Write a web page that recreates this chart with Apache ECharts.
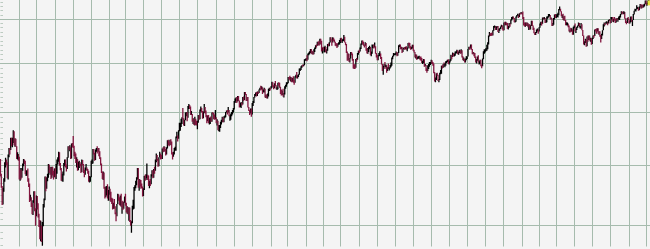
<!DOCTYPE html>
<html><head><meta charset="utf-8">
<script src="https://cdn.jsdelivr.net/npm/echarts@6/dist/echarts.min.js"></script>
<style>html,body{margin:0;padding:0;background:#f4f4f4;overflow:hidden}#chart{width:650px;height:249px}</style>
</head><body><div id="chart"></div>
<script>
// Daily index bars, Aug 2002 - Aug 2005 (one row per month)
const holidays = ['2002-09-02','2002-11-28','2002-12-25','2003-01-01','2003-01-20','2003-02-17','2003-04-18','2003-05-26','2003-07-04','2003-09-01','2003-11-27','2003-12-25','2004-01-01','2004-01-19','2004-02-16','2004-04-09','2004-05-31','2004-06-11','2004-07-05','2004-09-06','2004-11-25','2004-12-24','2005-01-17','2005-02-21','2005-03-25','2005-05-30','2005-07-04'];

const opens = [
912,885,864,835,860,877,905,909,904,884,920,930,929,951,937,949,963,941,948,935,918,918,
916,878,893,879,894,903,910,909,887,890,891,874,869,843,845,834,819,840,855,827,
815,848,828,819,801,785,799,777,804,835,841,881,860,879,884,900,890,896,883,898,890,882,891,
886,901,908,915,924,903,895,876,883,883,904,910,900,897,914,934,931,933,913,939,
936,935,921,918,907,912,892,904,905,902,889,910,903,891,884,896,897,892,890,875,879,
880,909,909,929,923,910,928,928,926,932,918,915,902,888,878,887,861,847,859,864,845,
856,860,848,844,838,830,836,829,819,817,835,851,845,837,848,833,839,828,837,
841,835,822,830,822,829,808,801,804,832,833,863,866,874,876,896,864,875,870,869,864,
848,858,881,876,879,880,878,866,872,868,885,891,880,894,892,911,919,911,899,915,918,
917,916,930,927,934,930,920,933,945,942,939,947,944,921,920,923,932,933,951,953,950,
964,967,972,986,990,988,976,985,997,999,989,1011,1012,1010,995,996,982,983,975,986,976,
975,982,994,986,1004,1008,1002,989,998,1004,1000,994,982,993,979,988,989,982,999,997,989,987,
990,980,983,965,967,974,978,981,990,984,991,991,1000,1002,1000,1003,993,994,997,997,1003,
1008,1022,1026,1028,1021,1032,1023,1011,1016,1019,1015,1029,1026,1040,1036,1023,1029,1009,1003,997,1007,
996,1018,1020,1030,1034,1039,1034,1039,1038,1045,1049,1047,1050,1039,1045,1046,1030,1034,1029,1031,1047,1048,1047,
1051,1059,1053,1052,1058,1053,1047,1047,1059,1058,1050,1044,1034,1042,1034,1035,1052,1054,1058,
1058,1070,1067,1065,1070,1062,1069,1060,1059,1071,1074,1068,1075,1076,1089,1089,1093,1096,1094,1096,1109,1110,
1112,1108,1122,1124,1126,1132,1122,1127,1121,1131,1132,1140,1139,1148,1144,1142,1155,1144,1128,1134,
1131,1135,1136,1127,1129,1143,1140,1146,1158,1152,1146,1157,1152,1147,1144,1141,1139,1144,1145,
1145,1156,1149,1151,1155,1157,1147,1141,1124,1107,1121,1104,1111,1124,1122,1110,1095,1094,1091,1109,1108,1122,1127,
1126,1132,1142,1151,1148,1141,1139,1145,1129,1128,1129,1135,1136,1118,1124,1140,1141,1136,1138,1122,1114,
1107,1117,1120,1122,1114,1099,1087,1095,1097,1096,1096,1084,1091,1089,1089,1094,1095,1113,1115,1121,
1121,1121,1125,1117,1123,1140,1142,1131,1136,1125,1132,1134,1132,1135,1130,1134,1144,1141,1134,1133,1136,
1141,1129,1125,1116,1118,1109,1113,1114,1115,1111,1107,1101,1101,1109,1094,1097,1086,1084,1095,1095,1100,
1102,1107,1100,1099,1081,1064,1065,1079,1076,1063,1065,1079,1082,1095,1091,1098,1096,1096,1105,1105,1108,1099,
1104,1106,1118,1114,1121,1116,1118,1124,1126,1128,1120,1124,1129,1122,1129,1114,1108,1110,1104,1110,1115,
1115,1132,1135,1134,1142,1131,1122,1124,1122,1114,1103,1108,1114,1103,1104,1106,1096,1095,1111,1125,1127,
1130,1131,1131,1143,1162,1166,1165,1164,1163,1173,1184,1184,1175,1182,1184,1170,1177,1177,1182,1183,1179,
1174,1191,1190,1191,1190,1177,1183,1189,1188,1199,1203,1206,1203,1194,1195,1205,1210,1210,1205,1214,1213,1214,
1212,1202,1188,1184,1188,1186,1190,1183,1188,1177,1185,1196,1185,1175,1168,1164,1168,1174,1175,1171,
1181,1189,1193,1190,1203,1202,1202,1192,1197,1205,1206,1210,1210,1201,1202,1184,1191,1200,1211,
1204,1210,1210,1210,1222,1225,1219,1207,1209,1200,1207,1198,1188,1190,1190,1184,1172,1173,1171,1174,1165,1181,
1181,1173,1176,1181,1184,1191,1181,1181,1188,1174,1162,1143,1146,1153,1138,1160,1152,1162,1152,1156,1143,
1157,1162,1161,1176,1173,1171,1179,1166,1171,1159,1154,1166,1174,1186,1191,1189,1194,1194,1190,1198,1199,
1192,1202,1204,1196,1198,1197,1195,1201,1198,1201,1204,1207,1211,1217,1216,1214,1214,1201,1192,1191,1202,1200,
1191,1194,1205,1195,1198,1212,1219,1222,1223,1227,1228,1221,1229,1235,1227,1234,1229,1231,1237,1244,
1234,1235,1244,1245
];

const closes = [
885,864,835,860,877,905,909,904,884,920,930,929,951,937,949,963,941,948,935,918,918,916,
878,893,879,894,903,910,909,887,890,891,874,869,843,845,834,819,840,855,827,815,
848,828,819,801,785,799,777,804,835,841,881,860,879,884,900,890,896,883,898,890,882,891,886,
901,908,915,924,903,895,876,883,883,904,910,900,897,914,934,931,933,913,939,936,
935,921,918,907,912,892,904,905,902,889,910,903,891,884,896,897,892,890,875,879,880,
909,909,929,923,910,928,928,926,932,918,915,902,888,878,887,861,847,859,864,845,856,
860,848,844,838,830,836,829,819,817,835,851,845,837,848,833,839,828,837,841,
835,822,830,822,829,808,801,804,832,833,863,866,874,876,896,864,875,870,869,864,848,
858,881,876,879,880,878,866,872,868,885,891,880,894,892,911,919,911,899,915,918,917,
916,930,927,934,930,920,933,945,942,939,947,944,921,920,923,932,933,951,953,950,964,
967,972,986,990,988,976,985,997,999,989,1011,1012,1010,995,996,982,983,975,986,976,975,
982,994,986,1004,1008,1002,989,998,1004,1000,994,982,993,979,988,989,982,999,997,989,987,990,
980,983,965,967,974,978,981,990,984,991,991,1000,1002,1000,1003,993,994,997,997,1003,1008,
1022,1026,1028,1021,1032,1023,1011,1016,1019,1015,1029,1026,1040,1036,1023,1029,1009,1003,997,1007,996,
1018,1020,1030,1034,1039,1034,1039,1038,1045,1049,1047,1050,1039,1045,1046,1030,1034,1029,1031,1047,1048,1047,1051,
1059,1053,1052,1058,1053,1047,1047,1059,1058,1050,1044,1034,1042,1034,1035,1052,1054,1058,1058,
1070,1067,1065,1070,1062,1069,1060,1059,1071,1074,1068,1075,1076,1089,1089,1093,1096,1094,1096,1109,1110,1112,
1108,1122,1124,1126,1132,1122,1127,1121,1131,1132,1140,1139,1148,1144,1142,1155,1144,1128,1134,1131,
1135,1136,1127,1129,1143,1140,1146,1158,1152,1146,1157,1152,1147,1144,1141,1139,1144,1145,1145,
1156,1149,1151,1155,1157,1147,1141,1124,1107,1121,1104,1111,1124,1122,1110,1095,1094,1091,1109,1108,1122,1127,1126,
1132,1142,1151,1148,1141,1139,1145,1129,1128,1129,1135,1136,1118,1124,1140,1141,1136,1138,1122,1114,1107,
1117,1120,1122,1114,1099,1087,1095,1097,1096,1096,1084,1091,1089,1089,1094,1095,1113,1115,1121,1121,
1121,1125,1117,1123,1140,1142,1131,1136,1125,1132,1134,1132,1135,1130,1134,1144,1141,1134,1133,1136,1141,
1129,1125,1116,1118,1109,1113,1114,1115,1111,1107,1101,1101,1109,1094,1097,1086,1084,1095,1095,1100,1102,
1107,1100,1099,1081,1064,1065,1079,1076,1063,1065,1079,1082,1095,1091,1098,1096,1096,1105,1105,1108,1099,1104,
1106,1118,1114,1121,1116,1118,1124,1126,1128,1120,1124,1129,1122,1129,1114,1108,1110,1104,1110,1115,1115,
1132,1135,1134,1142,1131,1122,1124,1122,1114,1103,1108,1114,1103,1104,1106,1096,1095,1111,1125,1127,1130,
1131,1131,1143,1162,1166,1165,1164,1163,1173,1184,1184,1175,1182,1184,1170,1177,1177,1182,1183,1179,1174,
1191,1190,1191,1190,1177,1183,1189,1188,1199,1203,1206,1203,1194,1195,1205,1210,1210,1205,1214,1213,1214,1212,
1202,1188,1184,1188,1186,1190,1183,1188,1177,1185,1196,1185,1175,1168,1164,1168,1174,1175,1171,1181,
1189,1193,1190,1203,1202,1202,1192,1197,1205,1206,1210,1210,1201,1202,1184,1191,1200,1211,1204,
1210,1210,1210,1222,1225,1219,1207,1209,1200,1207,1198,1188,1190,1190,1184,1172,1173,1171,1174,1165,1181,1181,
1173,1176,1181,1184,1191,1181,1181,1188,1174,1162,1143,1146,1153,1138,1160,1152,1162,1152,1156,1143,1157,
1162,1161,1176,1173,1171,1179,1166,1171,1159,1154,1166,1174,1186,1191,1189,1194,1194,1190,1198,1199,1192,
1202,1204,1196,1198,1197,1195,1201,1198,1201,1204,1207,1211,1217,1216,1214,1214,1201,1192,1191,1202,1200,1191,
1194,1205,1195,1198,1212,1219,1222,1223,1227,1228,1221,1229,1235,1227,1234,1229,1231,1237,1244,1234,
1235,1244,1245,1236
];

const lows = [
881,862,833,834,855,872,897,901,878,876,915,920,928,935,933,941,937,934,934,912,911,909,
876,874,876,879,891,899,903,885,882,883,872,863,838,840,830,818,817,837,823,800,
815,826,813,798,779,776,775,769,799,829,841,856,860,873,879,887,884,877,879,883,876,880,880,
877,886,902,907,900,892,874,873,872,883,899,897,890,894,914,928,926,912,913,933,
932,917,912,905,897,891,892,896,899,887,889,901,887,880,884,892,891,886,872,871,872,
880,903,904,920,909,910,925,922,925,917,912,901,887,877,875,860,844,846,849,844,840,
850,840,838,835,826,827,827,818,807,815,835,840,833,832,830,819,825,827,837,
832,821,819,818,808,806,800,789,804,826,827,857,861,866,876,862,857,864,860,861,847,
848,858,874,875,878,875,865,861,865,868,881,878,879,886,891,906,909,898,899,915,911,
912,912,924,925,926,918,920,931,937,935,937,938,920,911,916,920,927,927,950,944,949,
963,964,971,977,986,974,973,984,992,982,989,1006,1006,994,994,981,977,975,974,975,974,
967,979,985,986,1001,999,987,988,998,997,990,978,982,978,976,977,981,981,995,986,985,986,
978,974,965,963,962,969,976,980,980,980,988,990,999,995,999,992,983,985,992,995,999,
1005,1018,1021,1018,1021,1022,1009,1010,1008,1013,1015,1022,1024,1034,1022,1022,1009,1002,994,997,991,
995,1012,1018,1029,1032,1031,1032,1036,1038,1044,1043,1045,1036,1039,1039,1029,1028,1027,1027,1031,1042,1043,1047,
1049,1051,1046,1048,1052,1046,1044,1046,1053,1049,1036,1033,1034,1031,1029,1035,1047,1051,1056,
1058,1066,1064,1062,1060,1061,1059,1055,1059,1070,1068,1068,1071,1076,1084,1086,1091,1093,1094,1096,1106,1106,
1105,1108,1118,1120,1123,1121,1120,1119,1120,1125,1132,1135,1139,1140,1139,1141,1143,1126,1122,1128,
1124,1125,1124,1122,1128,1138,1138,1146,1151,1139,1146,1149,1146,1139,1138,1134,1137,1141,1142,
1145,1148,1145,1149,1149,1146,1140,1123,1106,1107,1104,1102,1111,1118,1106,1089,1088,1088,1091,1104,1108,1119,1123,
1126,1132,1141,1142,1139,1135,1139,1128,1122,1121,1125,1131,1118,1116,1121,1134,1133,1135,1121,1113,1107,
1107,1116,1116,1110,1098,1084,1076,1092,1088,1092,1080,1084,1088,1085,1089,1092,1095,1109,1115,1118,
1118,1119,1116,1117,1123,1136,1131,1131,1123,1125,1131,1130,1131,1130,1127,1133,1139,1133,1130,1131,1133,
1128,1124,1113,1111,1108,1109,1111,1110,1107,1106,1101,1099,1101,1093,1094,1084,1080,1084,1088,1093,1097,
1099,1099,1095,1079,1062,1060,1065,1074,1063,1060,1065,1077,1078,1089,1091,1094,1092,1095,1101,1103,1099,1098,
1102,1106,1109,1114,1116,1115,1117,1122,1122,1120,1119,1123,1121,1122,1113,1107,1106,1102,1102,1107,1110,
1115,1131,1130,1133,1130,1120,1120,1116,1112,1102,1100,1106,1102,1098,1099,1094,1090,1094,1109,1121,1124,
1127,1128,1131,1142,1160,1161,1161,1162,1162,1173,1180,1175,1175,1180,1170,1168,1173,1177,1181,1176,1173,
1174,1186,1186,1186,1177,1176,1180,1182,1188,1197,1200,1201,1193,1192,1194,1204,1208,1203,1205,1211,1212,1211,
1200,1185,1183,1182,1184,1184,1181,1175,1176,1176,1184,1184,1175,1167,1163,1163,1168,1171,1166,1171,
1180,1186,1185,1189,1199,1200,1191,1191,1193,1201,1204,1206,1200,1199,1184,1184,1187,1199,1203,
1203,1205,1204,1209,1221,1218,1207,1203,1198,1197,1196,1186,1186,1185,1181,1171,1169,1170,1171,1164,1164,1179,
1171,1168,1175,1180,1184,1181,1178,1178,1174,1161,1142,1140,1145,1137,1138,1148,1152,1151,1148,1141,1143,
1154,1157,1161,1171,1166,1171,1166,1164,1159,1146,1154,1162,1174,1183,1186,1188,1190,1186,1190,1196,1190,
1191,1200,1194,1193,1196,1191,1192,1197,1194,1199,1198,1204,1211,1213,1211,1212,1201,1191,1188,1191,1198,1190,
1190,1193,1194,1184,1198,1211,1219,1218,1223,1224,1220,1221,1228,1225,1226,1228,1228,1230,1236,1233,
1232,1235,1240,1235
];

const highs = [
912,886,865,862,878,906,914,911,906,920,932,932,951,951,951,965,963,950,949,935,924,921,
916,896,893,896,904,912,911,909,892,892,895,878,869,850,846,836,841,856,856,828,
849,848,836,819,809,808,800,806,835,844,881,881,880,886,903,902,898,897,898,898,891,895,896,
903,911,915,925,924,905,896,886,890,905,911,911,902,915,935,935,937,933,940,941,
954,936,925,922,915,912,907,909,906,903,911,910,903,893,897,903,897,894,891,882,881,
909,911,930,930,923,929,932,935,932,932,926,915,904,890,890,888,863,864,865,868,858,
864,860,855,845,844,837,843,831,821,835,852,851,846,849,852,839,840,838,847,
852,837,831,830,829,829,809,807,832,842,863,866,874,880,896,896,877,876,875,869,864,
861,882,884,885,904,884,883,874,877,885,892,892,894,898,911,922,919,912,915,925,922,
919,931,933,935,934,930,933,946,947,944,947,948,944,924,925,932,934,953,962,955,965,
979,979,987,990,1008,988,985,999,1000,1000,1012,1016,1014,1011,1002,996,988,987,991,987,983,
983,994,994,1005,1011,1008,1002,1001,1016,1010,1003,994,993,994,989,990,992,999,1000,998,995,1004,
990,986,983,975,975,981,985,991,990,992,993,1000,1003,1004,1010,1004,994,997,1000,1004,1008,
1022,1027,1029,1030,1032,1032,1023,1018,1020,1019,1030,1031,1040,1040,1036,1030,1030,1010,1004,1007,1007,
1018,1022,1030,1036,1039,1040,1041,1041,1045,1049,1053,1052,1050,1045,1049,1047,1035,1035,1037,1047,1049,1049,1052,
1061,1060,1054,1058,1063,1054,1050,1059,1060,1059,1051,1045,1043,1047,1038,1052,1055,1060,1060,
1071,1071,1074,1071,1070,1069,1073,1065,1073,1076,1082,1075,1077,1089,1090,1094,1096,1098,1098,1109,1110,1112,
1118,1122,1124,1127,1132,1132,1127,1128,1131,1135,1140,1142,1148,1148,1150,1155,1155,1150,1135,1137,
1136,1139,1136,1131,1143,1144,1147,1158,1158,1153,1158,1157,1153,1148,1144,1145,1144,1147,1152,
1156,1157,1153,1155,1163,1159,1147,1143,1126,1122,1121,1112,1125,1125,1122,1110,1098,1099,1110,1112,1123,1128,1130,
1135,1144,1151,1151,1148,1142,1147,1145,1133,1134,1136,1139,1136,1126,1142,1142,1142,1146,1138,1123,1119,
1118,1123,1127,1122,1114,1099,1095,1099,1103,1098,1096,1092,1100,1092,1097,1102,1113,1117,1123,1122,
1123,1126,1125,1124,1140,1142,1142,1137,1136,1133,1135,1136,1137,1138,1135,1145,1146,1145,1138,1137,1141,
1141,1130,1125,1120,1119,1115,1116,1117,1115,1115,1112,1106,1110,1109,1099,1097,1090,1096,1099,1103,1103,
1108,1107,1103,1100,1082,1070,1079,1080,1076,1067,1080,1086,1095,1096,1099,1102,1100,1105,1106,1108,1109,1105,
1109,1119,1118,1124,1123,1122,1126,1127,1130,1129,1126,1130,1129,1131,1129,1116,1113,1110,1111,1116,1116,
1132,1137,1137,1142,1142,1132,1125,1124,1123,1115,1110,1115,1118,1105,1108,1108,1098,1111,1127,1131,1131,
1134,1141,1147,1162,1170,1167,1168,1169,1174,1184,1185,1184,1183,1184,1184,1178,1179,1183,1187,1186,1180,
1192,1194,1194,1192,1191,1184,1191,1190,1199,1205,1206,1206,1203,1197,1206,1210,1213,1211,1214,1215,1217,1215,
1218,1205,1192,1192,1192,1192,1191,1188,1188,1186,1196,1196,1185,1180,1169,1170,1176,1178,1176,1181,
1190,1194,1194,1204,1204,1205,1203,1198,1206,1207,1212,1212,1210,1204,1202,1191,1203,1211,1212,
1211,1212,1215,1224,1230,1225,1219,1211,1213,1207,1208,1198,1193,1192,1190,1185,1176,1180,1179,1176,1182,1185,
1190,1178,1182,1185,1192,1191,1184,1191,1188,1175,1162,1149,1155,1153,1160,1162,1162,1162,1157,1156,1157,
1162,1163,1176,1177,1178,1179,1179,1172,1172,1163,1166,1174,1188,1192,1191,1194,1195,1194,1198,1200,1200,
1205,1205,1205,1201,1205,1201,1202,1202,1203,1206,1208,1212,1219,1218,1218,1219,1217,1202,1195,1203,1205,1201,
1197,1206,1206,1198,1212,1220,1225,1224,1233,1229,1228,1230,1236,1236,1234,1235,1235,1237,1245,1245,
1239,1245,1246,1245
];

const gridValues = [800, 900, 1000, 1100, 1200];
const minorTickValues = [770,780,790,810,820,830,840,850,860,870,880,890,910,920,930,940,950,960,970,980,990,
  1010,1020,1030,1040,1050,1060,1070,1080,1090,1110,1120,1130,1140,1150,1160,1170,1180,1190,1210,1220,1230,1240];

// trading-day categories
const dates = [];
const day = new Date(Date.UTC(2002, 7, 1));
while (dates.length < closes.length) {
  const wd = day.getUTCDay();
  const s = day.toISOString().slice(0, 10);
  if (wd !== 0 && wd !== 6 && holidays.indexOf(s) < 0) dates.push(s);
  day.setUTCDate(day.getUTCDate() + 1);
}
const candles = closes.map((c, i) => [opens[i], c, lows[i], highs[i]]);
const last = dates.length - 1;

const GRID = '#a6bbad';
const UP = '#000000';
const DOWN = '#82163f';

const chart = echarts.init(document.getElementById('chart'), null, {renderer: 'canvas'});
chart.setOption({
  animation: false,
  backgroundColor: '#f4f4f4',
  grid: {left: 0, right: 0, top: -1, bottom: 2.5},
  xAxis: {
    type: 'category', data: dates, boundaryGap: true,
    axisLine: {show: false}, axisTick: {show: false}, axisLabel: {show: false},
    splitLine: {
      show: true,
      interval: (i) => i > 0 && dates[i].slice(0, 7) !== dates[i - 1].slice(0, 7),
      lineStyle: {color: GRID, width: 1}
    }
  },
  yAxis: {
    type: 'log', logBase: 10, min: 768, max: 1246,
    axisLine: {show: false}, axisTick: {show: false}, axisLabel: {show: false},
    splitLine: {show: false}, minorSplitLine: {show: false}
  },
  series: [{
    type: 'candlestick',
    data: candles,
    large: true, largeThreshold: 100,
    z: 3,
    itemStyle: {
      color: UP, color0: DOWN, borderColor: UP, borderColor0: DOWN, borderColorDoji: UP, borderWidth: 1.3
    },
    markLine: {
      silent: true, symbol: 'none', z: 1, animation: false,
      label: {show: false},
      lineStyle: {color: GRID, width: 1, type: 'solid'},
      emphasis: {disabled: true},
      data: gridValues.map(v => ({yAxis: v})).concat(
        minorTickValues.map(v => [
          {coord: [dates[0], v], lineStyle: {color: '#bccbc1', width: 1, type: 'solid'}},
          {coord: [dates[3], v]}
        ])
      )
    },
    markPoint: {
      silent: true, animation: false,
      symbol: 'rect', symbolSize: [4, 5],
      label: {show: false},
      itemStyle: {color: '#e6df3a'},
      data: [{coord: [dates[last], 1239]}]
    }
  }]
});
</script>
</body></html>
